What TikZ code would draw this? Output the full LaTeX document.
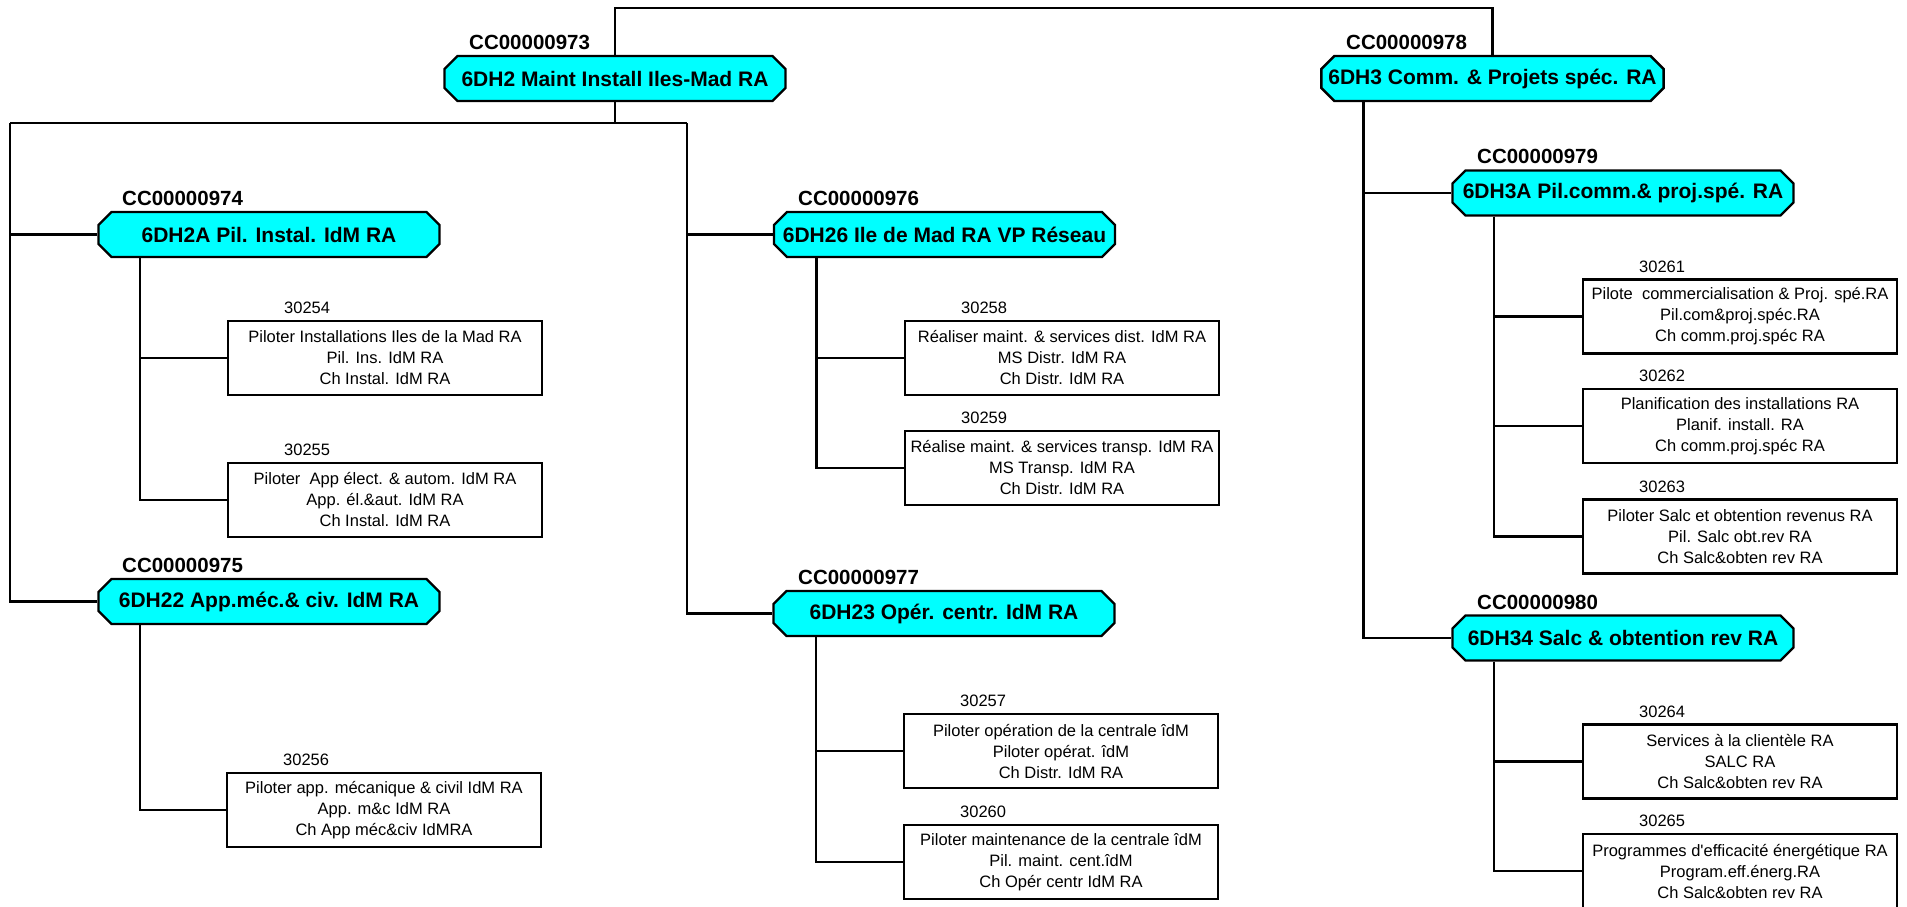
\documentclass[tikz,border=0pt]{standalone}
\usepackage{fontspec}
\setmainfont{Liberation Sans}
\usetikzlibrary{shapes.misc}
\definecolor{unitcyan}{RGB}{0,255,255}

\begin{document}
\begin{tikzpicture}[x=1pt, y=-1pt,
		ccbox/.style={draw, line width=2.4pt, fill=unitcyan, chamfered rectangle, chamfered rectangle xsep=7pt, chamfered rectangle ysep=6pt, minimum width=341pt, minimum height=45pt, inner sep=0pt, font=\fontsize{21}{25}\selectfont\bfseries},
		postbox/.style={draw, line width=2.1pt, minimum width=314pt, minimum height=74pt, inner sep=0pt, align=center, font=\fontsize{16.5}{21}\selectfont},
		cclabel/.style={anchor=west, inner sep=0pt, font=\fontsize{20.5}{24}\selectfont\bfseries},
		postlabel/.style={anchor=west, inner sep=0pt, font=\fontsize{16.5}{20}\selectfont},
		wire/.style={line width=2.1pt}]

		\useasboundingbox (0,0) rectangle (1907,907);

		\node[ccbox] (D2) at (615, 78.5) {6DH2 Maint Install Iles-Mad RA};
		\node[ccbox] (D3) at (1492.5, 78.5) {6DH3 Comm. \& Projets spéc. RA};
		\node[ccbox] (D2A) at (269, 234.5) {6DH2A Pil. Instal. IdM RA};
		\node[ccbox] (D26) at (944.5, 234.5) {6DH26 Ile de Mad RA VP Réseau};
		\node[ccbox] (D22) at (269, 601.5) {6DH22 App.méc.\& civ. IdM RA};
		\node[ccbox] (D23) at (944, 613.5) {6DH23 Opér. centr. IdM RA};
		\node[ccbox] (D3A) at (1623, 193) {6DH3A Pil.comm.\& proj.spé. RA};
		\node[ccbox] (D34) at (1623, 638) {6DH34 Salc \& obtention rev RA};

		\node[cclabel] (c973) at (469, 42) {CC00000973};
		\node[cclabel] (c978) at (1346, 42) {CC00000978};
		\node[cclabel] (c974) at (122, 198) {CC00000974};
		\node[cclabel] (c976) at (798, 198) {CC00000976};
		\node[cclabel] (c975) at (122, 565) {CC00000975};
		\node[cclabel] (c977) at (798, 577) {CC00000977};
		\node[cclabel] (c979) at (1477, 156) {CC00000979};
		\node[cclabel] (c980) at (1477, 602) {CC00000980};

		\node[postbox] (p30254) at (385, 358) {Piloter Installations Iles de la Mad RA\\Pil. Ins. IdM RA\\Ch Instal. IdM RA};
		\node[postbox] (p30255) at (385, 500) {Piloter \ App élect. \& autom. IdM RA\\App. él.\&aut. IdM RA\\Ch Instal. IdM RA};
		\node[postbox] (p30256) at (384, 810) {Piloter app. mécanique \& civil IdM RA\\App. m\&c IdM RA\\Ch App méc\&civ IdMRA};
		\node[postbox] (p30258) at (1062, 358) {Réaliser maint. \& services dist. IdM RA\\MS Distr. IdM RA\\Ch Distr. IdM RA};
		\node[postbox] (p30259) at (1062, 468) {Réalise maint. \& services transp. IdM RA\\MS Transp. IdM RA\\Ch Distr. IdM RA};
		\node[postbox] (p30257) at (1061, 751) {Piloter opération de la centrale îdM\\Piloter opérat. îdM\\Ch Distr. IdM RA};
		\node[postbox] (p30260) at (1061, 862) {Piloter maintenance de la centrale îdM\\Pil. maint. cent.îdM\\Ch Opér centr IdM RA};
		\node[postbox] (p30261) at (1740, 316.5) {Pilote \ commercialisation \& Proj. spé.RA\\Pil.com\&proj.spéc.RA\\Ch comm.proj.spéc RA};
		\node[postbox] (p30262) at (1740, 426) {Planification des installations RA\\Planif. install. RA\\Ch comm.proj.spéc RA};
		\node[postbox] (p30263) at (1740, 536.5) {Piloter Salc et obtention revenus RA\\Pil. Salc obt.rev RA\\Ch Salc\&obten rev RA};
		\node[postbox] (p30264) at (1740, 761.5) {Services à la clientèle RA\\SALC RA\\Ch Salc\&obten rev RA};
		\node[postbox] (p30265) at (1740, 871) {Programmes d\textquotesingle efficacité énergétique RA\\Program.eff.énerg.RA\\Ch Salc\&obten rev RA};

		\node[postlabel] (n30254) at (284, 308) {30254};
		\node[postlabel] (n30255) at (284, 450) {30255};
		\node[postlabel] (n30256) at (283, 760) {30256};
		\node[postlabel] (n30258) at (961, 308) {30258};
		\node[postlabel] (n30259) at (961, 418) {30259};
		\node[postlabel] (n30257) at (960, 701) {30257};
		\node[postlabel] (n30260) at (960, 812) {30260};
		\node[postlabel] (n30261) at (1639, 266.5) {30261};
		\node[postlabel] (n30262) at (1639, 376) {30262};
		\node[postlabel] (n30263) at (1639, 486.5) {30263};
		\node[postlabel] (n30264) at (1639, 711.5) {30264};
		\node[postlabel] (n30265) at (1639, 821) {30265};

		\coordinate (top) at (615, 8);
		\coordinate (busL) at (10, 123);
		\coordinate (busR) at (687, 123);

		\draw[wire] (D2.north) |- (top) -| (D3.north);
		\draw[wire] (D2.south) |- (busL);
		\draw[wire] (D2.south) |- (busR);
		\draw[wire] (busL) |- (D2A.west);
		\draw[wire] (busL) |- (D22.west);
		\draw[wire] (busR) |- (D26.west);
		\draw[wire] (busR) |- (D23.west);

		\draw[wire] ([xshift=-129pt]D2A.south) |- (p30254.west);
		\draw[wire] ([xshift=-129pt]D2A.south) |- (p30255.west);
		\draw[wire] ([xshift=-129pt]D22.south) |- (p30256.west);
		\draw[wire] ([xshift=-128pt]D26.south) |- (p30258.west);
		\draw[wire] ([xshift=-128pt]D26.south) |- (p30259.west);
		\draw[wire] ([xshift=-128pt]D23.south) |- (p30257.west);
		\draw[wire] ([xshift=-128pt]D23.south) |- (p30260.west);

		\draw[wire] ([xshift=-129pt]D3.south) |- (D3A.west);
		\draw[wire] ([xshift=-129pt]D3.south) |- (D34.west);
		\draw[wire] ([xshift=-129pt]D3A.south) |- (p30261.west);
		\draw[wire] ([xshift=-129pt]D3A.south) |- (p30262.west);
		\draw[wire] ([xshift=-129pt]D3A.south) |- (p30263.west);
		\draw[wire] ([xshift=-129pt]D34.south) |- (p30264.west);
		\draw[wire] ([xshift=-129pt]D34.south) |- (p30265.west);

	\end{tikzpicture}
\end{document}
